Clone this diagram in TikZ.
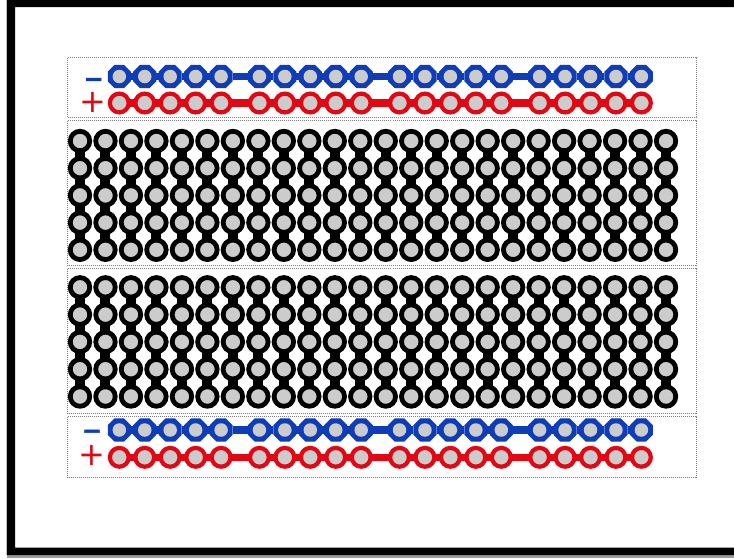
\documentclass[tikz,border=0pt]{standalone}
\usepackage{fontspec}
\setmainfont{DejaVu Sans}
\newfontfamily\minusfont[FakeBold=1.6]{DejaVu Sans Bold}
\usetikzlibrary{shapes.geometric}
\definecolor{railblue}{HTML}{0F3DB8}
\definecolor{railred}{HTML}{E30613}
\definecolor{holegray}{HTML}{CCCCCC}
\tikzset{
  x=1pt,y=-1pt,
  zone/.style={draw=black!50,line width=1pt,dash pattern=on 1pt off 1pt},
  blackpad/.style={circle,draw=black,fill=holegray,line width=4.8pt,inner sep=0pt,minimum size=19.5pt,outer sep=0pt},
  redpad/.style={circle,draw=railred,fill=holegray,line width=4.2pt,inner sep=0pt,minimum size=18.8pt,outer sep=0pt},
  bluepad/.style={regular polygon,regular polygon sides=8,fill=railblue,inner sep=0pt,minimum size=25pt,outer sep=0pt},
  bluehole/.style={circle,fill=holegray,inner sep=0pt,minimum size=13.5pt},
  blacklink/.style={draw=black,line width=10pt},
  bluelink/.style={draw=railblue,line width=7.5pt},
  redlink/.style={draw=railred,line width=7.5pt},
  minuslabel/.style={anchor=base,inner sep=0pt,text=railblue,font=\minusfont\fontsize{24pt}{24pt}\selectfont},
  pluslabel/.style={anchor=base,inner sep=0pt,text=railred,font=\fontsize{32pt}{32pt}\selectfont},
}
\begin{document}
\begin{tikzpicture}
\useasboundingbox (0,0) rectangle (734,558);
\fill[white] (0,0) rectangle (734,558);
% outer frame
\fill[black!40] (7,555) rectangle (734,558);
\fill[black!25] (6,0) rectangle (7,555);
\fill[black] (7,0) rectangle (734,7) (7,0) rectangle (15,555) (7,547.5) rectangle (734,555);
% dotted zones
\draw[zone] (67.5,57.5) rectangle (696.5,117.5);
\draw[zone] (67.5,120.5) rectangle (696.5,265.5);
\draw[zone] (67.5,268.5) rectangle (696.5,413.5);
\draw[zone] (67.5,416.5) rectangle (696.5,477.5);
% terminal strips
\foreach \g/\ya/\yd in {t/141/27.2,b/287.3/27.3}{
  \foreach \c in {0,...,23}{
    \foreach \r in {0,...,4}{
      \node[blackpad] (\g\c-\r) at ({80+25.48*\c},{\ya+\yd*\r}) {};
    }
    \foreach \r/\s in {0/1,1/2,2/3,3/4}{
      \draw[blacklink] (\g\c-\r) -- (\g\c-\s);
    }
  }
}
% power rails
\foreach \n/\yb/\yr in {u/76.5/103,l/430/457.3}{
  \foreach \k in {0,...,3}{
    \foreach \i in {0,...,4}{
      \pgfmathsetmacro{\px}{119.3+140.1*\k+25.45*\i}
      \node[bluepad] (\n b\k-\i) at (\px,\yb) {};
      \node[bluehole] (\n h\k-\i) at (\px,\yb) {};
      \node[redpad] (\n r\k-\i) at (\px,\yr) {};
    }
    \foreach \i/\j in {0/1,1/2,2/3,3/4}{
      \draw[bluelink] (\n b\k-\i) -- (\n b\k-\j);
      \draw[redlink] (\n r\k-\i) -- (\n r\k-\j);
    }
  }
  \foreach \k/\m in {0/1,1/2,2/3}{
    \draw[bluelink] (\n b\k-4) -- (\n b\m-0);
    \draw[redlink] (\n r\k-4) -- (\n r\m-0);
  }
}
% polarity signs
\node[minuslabel] (minusu) at (93.7,87) {−};
\node[pluslabel] (plusu) at (92.5,112.5) {+};
\node[minuslabel] (minusl) at (92,438.7) {−};
\node[pluslabel] (plusl) at (92.3,465.5) {+};
\end{tikzpicture}
\end{document}
